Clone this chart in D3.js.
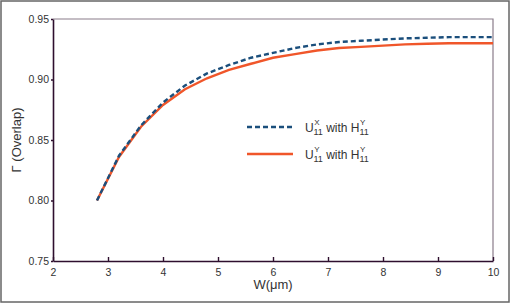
<!DOCTYPE html>
<html>
<head>
<meta charset="utf-8">
<script src="https://cdn.jsdelivr.net/npm/d3@7"></script>
<style>
  body { margin: 0; background: #fff; }
  svg text { font-family: "Liberation Sans", Arial, sans-serif; fill: #333; }
</style>
</head>
<body>
<div id="vis"></div>
<script>

// waveguide width (um)
var widthUm = [2.8, 3.2, 3.6, 4.0, 4.4, 4.8, 5.2, 5.6, 6.0, 6.4, 6.8, 7.2, 7.6, 8.0, 8.4, 8.8, 9.2, 9.6, 10.0];

// overlap, U11^X with H11^Y (dashed)
var overlapUx = [0.800, 0.837, 0.862, 0.881, 0.895, 0.905, 0.912, 0.918, 0.922, 0.926, 0.929, 0.931, 0.932, 0.933, 0.934, 0.9345, 0.935, 0.935, 0.935];
// overlap, U11^Y with H11^Y (solid)
var overlapUy = [0.800, 0.836, 0.861, 0.879, 0.892, 0.901, 0.908, 0.913, 0.918, 0.921, 0.924, 0.926, 0.927, 0.928, 0.929, 0.9295, 0.930, 0.930, 0.930];

var xTicks = [2, 3, 4, 5, 6, 7, 8, 9, 10];
var yTicks = [0.75, 0.80, 0.85, 0.90, 0.95];

var seriesNames = ['ux', 'uy'];
var seriesSup = ['X', 'Y'];

var width = 516;
var height = 304;
var margin = { left: 53, top: 19, right: 23, bottom: 43 };
var plotW = width - margin.left - margin.right;
var plotH = height - margin.top - margin.bottom;

var svg = d3.select('#vis').append('svg')
  .attr('width', width)
  .attr('height', height);

// outer frame
svg.append('rect')
  .attr('x', 1).attr('y', 1)
  .attr('width', 508).attr('height', 301)
  .attr('fill', 'none')
  .attr('stroke', '#666')
  .attr('stroke-width', 1.5);

var x = d3.scaleLinear().domain([2, 10]).range([0, plotW]);
var y = d3.scaleLinear().domain([0.75, 0.95]).range([plotH, 0]);

var g = svg.append('g')
  .attr('transform', 'translate(' + margin.left + ',' + margin.top + ')');

// top / right border (lighter)
g.append('path')
  .attr('d', 'M0,0H' + plotW + 'V' + plotH)
  .attr('fill', 'none')
  .attr('stroke', '#8a7c8a')
  .attr('stroke-width', 1.2);

// x axis, ticks pointing inward
var xAxis = g.append('g')
  .attr('transform', 'translate(0,' + plotH + ')')
  .call(d3.axisBottom(x).tickValues(xTicks).tickSizeInner(-4).tickSizeOuter(0).tickPadding(8));

// y axis
var yAxis = g.append('g')
  .call(d3.axisLeft(y).tickValues(yTicks).tickFormat(d3.format('.2f')).tickSizeInner(2).tickSizeOuter(0).tickPadding(2));

[xAxis, yAxis].forEach(function (a) {
  a.select('.domain').attr('stroke', '#2e0f2e').attr('stroke-width', 1.6);
  a.selectAll('.tick line').attr('stroke', '#2e0f2e').attr('stroke-width', 1.4);
  a.selectAll('.tick text')
    .attr('font-size', 10.5)
    .attr('font-family', '"Liberation Sans", Arial, sans-serif')
    .attr('fill', '#333');
});

// curves
var data = {
  ux: widthUm.map(function (w, i) { return { x: w, y: overlapUx[i] }; }),
  uy: widthUm.map(function (w, i) { return { x: w, y: overlapUy[i] }; })
};

var color = { ux: '#1b4f7c', uy: '#f0562a' };
var dash = { ux: '5,3', uy: null };

var line = d3.line()
  .x(function (d) { return x(d.x); })
  .y(function (d) { return y(d.y); });

// draw solid first so the dashed one sits on top
['uy', 'ux'].forEach(function (k) {
  g.append('path')
    .datum(data[k])
    .attr('fill', 'none')
    .attr('stroke', color[k])
    .attr('stroke-width', 2.4)
    .attr('stroke-dasharray', dash[k])
    .attr('d', line);
});

// legend
var legend = svg.append('g').attr('transform', 'translate(247,127)');

seriesNames.forEach(function (k, i) {
  var row = legend.append('g').attr('transform', 'translate(0,' + (i * 27) + ')');
  row.append('line')
    .attr('x1', 0).attr('x2', 46)
    .attr('stroke', color[k])
    .attr('stroke-width', 2.4)
    .attr('stroke-dasharray', dash[k]);

  var t = row.append('text')
    .attr('x', 58).attr('y', 4.5)
    .attr('font-size', 12);
  t.append('tspan').text('U');
  t.append('tspan').attr('font-size', 8).attr('dy', -7).attr('dx', 0.5).text(seriesSup[i]);
  t.append('tspan').attr('font-size', 9).attr('dy', 10).attr('dx', -6).text('11');
  t.append('tspan').attr('dy', -3).text(' with H');
  t.append('tspan').attr('font-size', 8).attr('dy', -7).attr('dx', 0.5).text('Y');
  t.append('tspan').attr('font-size', 9).attr('dy', 10).attr('dx', -6).text('11');
});

// axis titles
svg.append('text')
  .attr('x', margin.left + plotW / 2)
  .attr('y', 289)
  .attr('text-anchor', 'middle')
  .attr('font-size', 13)
  .text('W(μm)');

svg.append('text')
  .attr('transform', 'translate(21,140) rotate(-90)')
  .attr('text-anchor', 'middle')
  .attr('font-size', 13)
  .text('Γ (Overlap)');

</script>
</body>
</html>
